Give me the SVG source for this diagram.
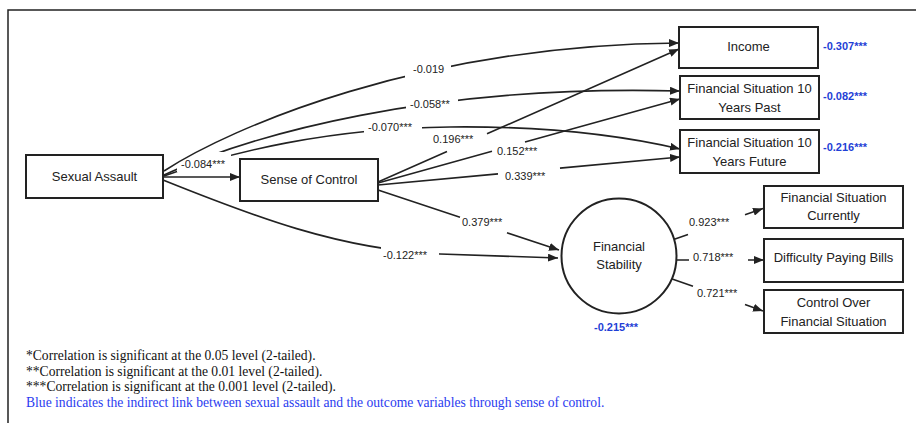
<svg xmlns="http://www.w3.org/2000/svg" width="916" height="423" viewBox="0 0 916 423">
<style>
.box{fill:#fff;stroke:#222;stroke-width:2}
.nt{font-family:"Liberation Sans",Arial,sans-serif;font-size:13px;fill:#222;text-anchor:middle}
.ln{fill:none;stroke:#222;stroke-width:1.6}
.el{font-family:"Liberation Sans",Arial,sans-serif;font-size:11px;fill:#222}
.bl{font-family:"Liberation Sans",Arial,sans-serif;font-size:11px;font-weight:bold;fill:#1f3fd6}
.gap{fill:#fff}
.fn{font-family:"Liberation Serif","Times New Roman",serif;font-size:13.6px;fill:#111}
</style>
<defs>
<marker id="ah" markerWidth="10" markerHeight="8" refX="10" refY="4" orient="auto" markerUnits="userSpaceOnUse">
<path d="M0,0 L10,4 L0,8 z" fill="#222"/>
</marker>
</defs>
<rect x="0" y="0" width="916" height="423" fill="#fff"/>
<path d="M8,423 L8,10 L916,10" fill="none" stroke="#222" stroke-width="1.5"/>

<g id="connectors">
<path class="ln" d="M164,175 C250,135 430,84 680,91" marker-end="url(#ah)"/>
<path class="ln" d="M164,176 C230,152 330,128 450,127 C540,126 620,135 680,149" marker-end="url(#ah)"/>
<path class="ln" d="M163,180 C250,215 340,250 440,254 C490,256 530,257 558,258" marker-end="url(#ah)"/>
<rect class="gap" x="177" y="152" width="54" height="20"/>
<rect class="gap" x="406" y="96" width="52" height="16"/>
<rect class="gap" x="364" y="118" width="58" height="18"/>
<rect class="gap" x="381" y="240" width="58" height="23"/>
<path class="ln" d="M164,171 C230,128 420,45 679,43" marker-end="url(#ah)"/>
<rect class="gap" x="405" y="60" width="46" height="20"/>
<path class="ln" d="M163,177 L240,177" marker-end="url(#ah)"/>
<path class="ln" d="M378,182 L447,151.5 M487,133.8 L679,49" marker-end="url(#ah)"/>
<path class="ln" d="M378,183 L492,151.3 M525,142.1 L680,99" marker-end="url(#ah)"/>
<path class="ln" d="M378,185 L498,173.9 M560,168.1 L680,157" marker-end="url(#ah)"/>
<path class="ln" d="M378,190 L460,217.2 M507,232.8 L559,250" marker-end="url(#ah)"/>
<path class="ln" d="M670,240.7 L688,234.5 M745,214.7 L763,208.5" marker-end="url(#ah)"/>
<path class="ln" d="M670,260 L689,260 M748,260 L764,260" marker-end="url(#ah)"/>
<path class="ln" d="M670,278.3 L693,286.3 M745,304.6 L763,311" marker-end="url(#ah)"/>
<text class="el" x="413" y="73">-0.019</text>
<text class="el" x="410" y="108">-0.058**</text>
<text class="el" x="368" y="131">-0.070***</text>
<text class="el" x="181" y="168">-0.084***</text>
<text class="el" x="433" y="143">0.196***</text>
<text class="el" x="497" y="155">0.152***</text>
<text class="el" x="505" y="180">0.339***</text>
<text class="el" x="462" y="226">0.379***</text>
<text class="el" x="383" y="259">-0.122***</text>
<text class="el" x="689" y="226">0.923***</text>
<text class="el" x="693" y="261">0.718***</text>
<text class="el" x="697" y="297">0.721***</text>
</g>

<g id="sexual-assault">
<rect class="box" x="26" y="155" width="137" height="43"/>
<text class="nt" x="94.5" y="181">Sexual Assault</text>
</g>
<g id="sense-of-control">
<rect class="box" x="240" y="159" width="138" height="42"/>
<text class="nt" x="309" y="184">Sense of Control</text>
</g>
<g id="income">
<rect class="box" x="679" y="27" width="139" height="41"/>
<text class="nt" x="748.5" y="51">Income</text>
<text class="bl" x="823" y="50">-0.307***</text>
</g>
<g id="fs-past">
<rect class="box" x="680" y="76" width="139" height="43"/>
<text class="nt" x="749.5" y="93">Financial Situation 10</text>
<text class="nt" x="749.5" y="112">Years Past</text>
<text class="bl" x="823" y="100">-0.082***</text>
</g>
<g id="fs-future">
<rect class="box" x="680" y="130" width="139" height="43"/>
<text class="nt" x="749.5" y="147">Financial Situation 10</text>
<text class="nt" x="749.5" y="166">Years Future</text>
<text class="bl" x="823" y="151">-0.216***</text>
</g>
<g id="financial-stability">
<circle cx="619" cy="256" r="57.5" fill="#fff" stroke="#222" stroke-width="2"/>
<text class="nt" x="619" y="251">Financial</text>
<text class="nt" x="619" y="269">Stability</text>
<text class="bl" x="616" y="331" text-anchor="middle">-0.215***</text>
</g>
<g id="fs-currently">
<rect class="box" x="764" y="186" width="139" height="42"/>
<text class="nt" x="833.5" y="202">Financial Situation</text>
<text class="nt" x="833.5" y="220">Currently</text>
</g>
<g id="difficulty-paying-bills">
<rect class="box" x="764" y="239" width="139" height="43"/>
<text class="nt" x="833.5" y="262">Difficulty Paying Bills</text>
</g>
<g id="control-over">
<rect class="box" x="764" y="290" width="139" height="43"/>
<text class="nt" x="833.5" y="307">Control Over</text>
<text class="nt" x="833.5" y="326">Financial Situation</text>
</g>

<g id="footnote">
<text class="fn" x="26" y="360">*Correlation is significant at the 0.05 level (2-tailed).</text>
<text class="fn" x="26" y="376">**Correlation is significant at the 0.01 level (2-tailed).</text>
<text class="fn" x="26" y="391">***Correlation is significant at the 0.001 level (2-tailed).</text>
<text class="fn" x="26" y="407" style="fill:#2a3cf0">Blue indicates the indirect link between sexual assault and the outcome variables through sense of control.</text>
</g>
</svg>
